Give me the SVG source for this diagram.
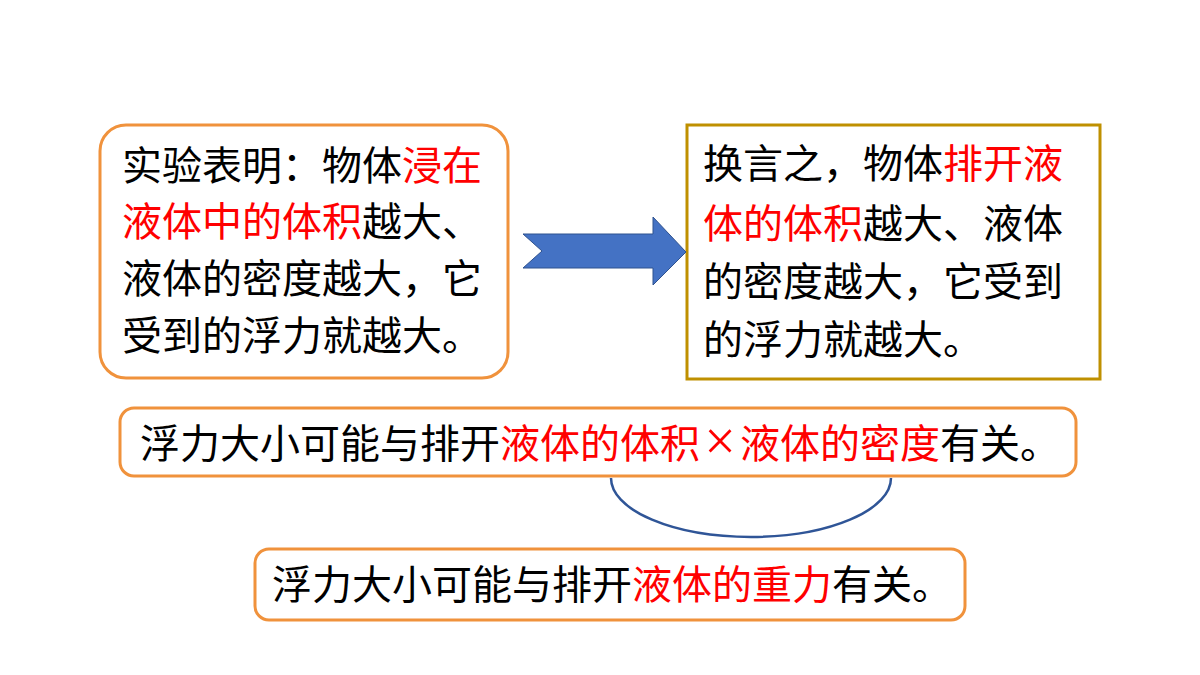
<svg xmlns="http://www.w3.org/2000/svg" width="1200" height="675" viewBox="0 0 1200 675">
<style>
.t{font-family:"Liberation Serif","Noto Sans CJK SC",serif;font-size:40px;fill:#000}
.r{fill:#FF0000}
.ob{fill:#fff;stroke:#F0923C;stroke-width:3}
</style>
<rect width="1200" height="675" fill="#fff"/>
<g id="box1">
<rect class="ob" x="100" y="125" width="408" height="253" rx="26"/>
<text class="t" x="122" y="180">实验表明：物体<tspan class="r">浸在</tspan></text>
<text class="t" x="122" y="236"><tspan class="r">液体中的体积</tspan>越大、</text>
<text class="t" x="122" y="293">液体的密度越大，它</text>
<text class="t" x="122" y="350">受到的浮力就越大。</text>
</g>
<g id="box2">
<rect x="687" y="125" width="413" height="254" fill="#fff" stroke="#BF9000" stroke-width="3"/>
<text class="t" x="703" y="178">换言之，物体<tspan class="r">排开液</tspan></text>
<text class="t" x="703" y="238"><tspan class="r">体的体积</tspan>越大、液体</text>
<text class="t" x="703" y="296">的密度越大，它受到</text>
<text class="t" x="703" y="354">的浮力就越大。</text>
</g>
<g id="box3">
<rect class="ob" x="120" y="408" width="956" height="68" rx="14"/>
<text class="t" x="140" y="458">浮力大小可能与排开<tspan class="r">液体的体积<tspan dx="4.2" dy="2" font-size="56">×</tspan><tspan dx="4.2" dy="-2">液体的密度</tspan></tspan>有关。</text>
</g>
<g id="box4">
<rect class="ob" x="255" y="549" width="710" height="71" rx="14"/>
<text class="t" x="272" y="599">浮力大小可能与排开<tspan class="r">液体的重力</tspan>有关。</text>
</g>
<g id="connectors">
<polygon points="523,234 653,234 653,217 686,252 653,285 653,268 523,268 542,251" fill="#4472C4" stroke="#2F528F" stroke-width="1"/>
<path d="M611,478 A140,59 0 0 0 891,478" fill="none" stroke="#2F5597" stroke-width="2.5"/>
</g>
</svg>
